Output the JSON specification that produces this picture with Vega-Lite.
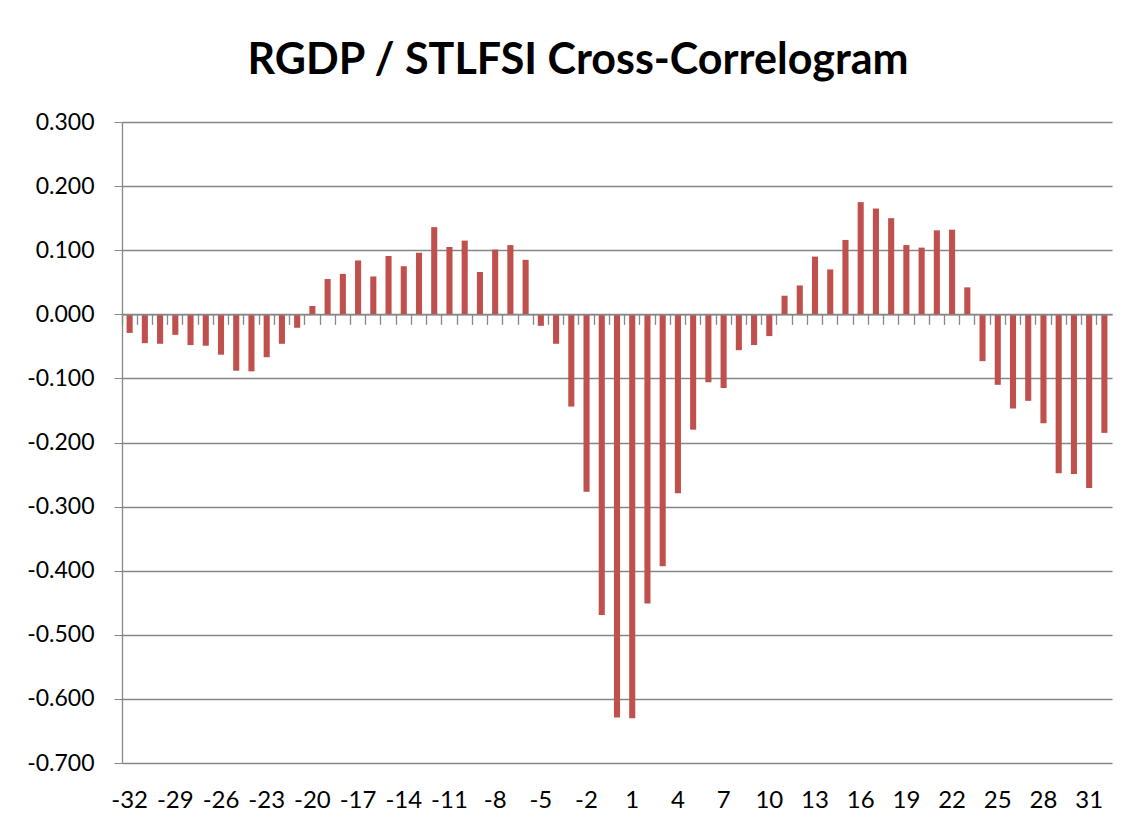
{
  "$schema": "https://vega.github.io/schema/vega-lite/v6.json",
  "autosize": {"type": "none"},
  "padding": {"left": 122, "top": 122, "right": 25, "bottom": 66},
  "width": 990,
  "height": 641,
  "background": "white",
  "config": {
    "view": {"stroke": null},
    "font": "Lato"
  },
  "title": {
    "text": "RGDP / STLFSI Cross-Correlogram",
    "font": "Lato",
    "fontSize": 43,
    "fontWeight": "bold",
    "color": "#000000",
    "anchor": "middle",
    "frame": "group",
    "dx": -39,
    "baseline": "alphabetic",
    "offset": -6
  },
  "data": {
    "values": [
      {"lag": -32, "r": -0.029}, {"lag": -31, "r": -0.045}, {"lag": -30, "r": -0.046}, {"lag": -29, "r": -0.032},
      {"lag": -28, "r": -0.048}, {"lag": -27, "r": -0.049}, {"lag": -26, "r": -0.063}, {"lag": -25, "r": -0.088},
      {"lag": -24, "r": -0.089}, {"lag": -23, "r": -0.067}, {"lag": -22, "r": -0.046}, {"lag": -21, "r": -0.021},
      {"lag": -20, "r": 0.013}, {"lag": -19, "r": 0.055}, {"lag": -18, "r": 0.063}, {"lag": -17, "r": 0.084},
      {"lag": -16, "r": 0.059}, {"lag": -15, "r": 0.091}, {"lag": -14, "r": 0.075}, {"lag": -13, "r": 0.096},
      {"lag": -12, "r": 0.136}, {"lag": -11, "r": 0.105}, {"lag": -10, "r": 0.115}, {"lag": -9, "r": 0.066},
      {"lag": -8, "r": 0.101}, {"lag": -7, "r": 0.108}, {"lag": -6, "r": 0.085}, {"lag": -5, "r": -0.018},
      {"lag": -4, "r": -0.046}, {"lag": -3, "r": -0.144}, {"lag": -2, "r": -0.277}, {"lag": -1, "r": -0.469},
      {"lag": 0, "r": -0.629}, {"lag": 1, "r": -0.630}, {"lag": 2, "r": -0.451}, {"lag": 3, "r": -0.393},
      {"lag": 4, "r": -0.279}, {"lag": 5, "r": -0.180}, {"lag": 6, "r": -0.106}, {"lag": 7, "r": -0.115},
      {"lag": 8, "r": -0.056}, {"lag": 9, "r": -0.048}, {"lag": 10, "r": -0.034}, {"lag": 11, "r": 0.029},
      {"lag": 12, "r": 0.045}, {"lag": 13, "r": 0.090}, {"lag": 14, "r": 0.070}, {"lag": 15, "r": 0.116},
      {"lag": 16, "r": 0.175}, {"lag": 17, "r": 0.165}, {"lag": 18, "r": 0.150}, {"lag": 19, "r": 0.108},
      {"lag": 20, "r": 0.104}, {"lag": 21, "r": 0.131}, {"lag": 22, "r": 0.132}, {"lag": 23, "r": 0.042},
      {"lag": 24, "r": -0.073}, {"lag": 25, "r": -0.110}, {"lag": 26, "r": -0.147}, {"lag": 27, "r": -0.135},
      {"lag": 28, "r": -0.170}, {"lag": 29, "r": -0.248}, {"lag": 30, "r": -0.249}, {"lag": 31, "r": -0.271},
      {"lag": 32, "r": -0.185}
    ]
  },
  "resolve": {"axis": {"x": "independent"}},
  "layer": [
    {
      "mark": {"type": "bar", "color": "#C0504D", "width": {"band": 0.4}},
      "encoding": {
        "x": {
          "field": "lag", "type": "ordinal", "sort": "ascending",
          "scale": {"paddingInner": 0, "paddingOuter": 0},
          "axis": {
            "orient": "bottom",
            "title": null,
            "values": [-32, -29, -26, -23, -20, -17, -14, -11, -8, -5, -2, 1, 4, 7, 10, 13, 16, 19, 22, 25, 28, 31],
            "labelAngle": 0,
            "labelFont": "Lato",
            "labelFontSize": 24,
            "labelColor": "#000000",
            "labelPadding": 25,
            "ticks": false,
            "domain": false,
            "grid": false
          }
        },
        "y": {
          "field": "r", "type": "quantitative",
          "scale": {"domain": [-0.7, 0.3], "nice": false, "zero": false},
          "axis": {
            "title": null,
            "values": [-0.7, -0.6, -0.5, -0.4, -0.3, -0.2, -0.1, 0, 0.1, 0.2, 0.3],
            "format": ".3f",
            "labelExpr": "replace(datum.label, '\u2212', '-')",
            "labelFont": "Lato",
            "labelFontSize": 23,
            "labelColor": "#000000",
            "labelPadding": 20,
            "tickSize": 8,
            "tickColor": "#868686",
            "domainColor": "#868686",
            "domainWidth": 1.3,
            "gridColor": "#868686",
            "gridWidth": 1.3,
            "grid": true
          }
        }
      }
    },
    {
      "mark": {"type": "bar", "opacity": 0},
      "encoding": {
        "x": {
          "field": "lag", "type": "ordinal", "sort": "ascending",
          "axis": {
            "orient": "bottom",
            "title": null,
            "labels": false,
            "offset": -448.7,
            "bandPosition": 0,
            "ticks": true,
            "tickSize": 10,
            "tickColor": "#868686",
            "tickWidth": 1.3,
            "domain": true,
            "domainColor": "#868686",
            "domainWidth": 1.5,
            "grid": false,
            "zindex": 1
          }
        },
        "y": {"field": "r", "type": "quantitative"}
      }
    }
  ]
}
